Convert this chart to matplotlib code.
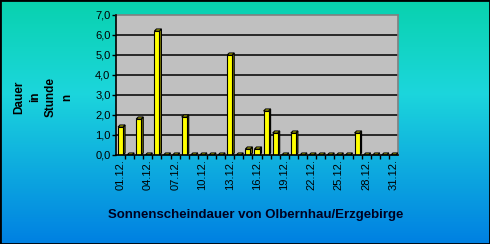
import numpy as np
import matplotlib
matplotlib.use("Agg")
import matplotlib.pyplot as plt
from matplotlib.colors import LinearSegmentedColormap
from matplotlib.patches import Polygon, Rectangle

# ----------------------------
# Data
# ----------------------------
days = list(range(1, 32))
day_labels = [f"{d:02d}.12." for d in days]
hours = [1.4, 0.0, 1.8, 0.0, 6.2, 0.0, 0.0, 1.9, 0.0, 0.0,
         0.0, 0.0, 5.0, 0.0, 0.3, 0.3, 2.2, 1.1, 0.0, 1.1,
         0.0, 0.0, 0.0, 0.0, 0.0, 0.0, 1.1, 0.0, 0.0, 0.0, 0.0]
yticks = [0, 1, 2, 3, 4, 5, 6, 7]

# ----------------------------
# Style
# ----------------------------
W, H = 490, 244
FRONT = "#FFFF00"
SIDE = "#808000"
TOP = "#E6E600"
WALL = "#C0C0C0"
FONT = ["Liberation Sans", "DejaVu Sans"]

fig = plt.figure(figsize=(W / 100, H / 100), dpi=100)

# background gradient
bg = fig.add_axes([0, 0, 1, 1], zorder=0)
cmap = LinearSegmentedColormap.from_list(
    "bg", [(0.0, "#08D2AE"), (0.38, "#1CD6DC"), (1.0, "#0080E2")])
grad = np.linspace(0, 1, 256).reshape(-1, 1)
bg.imshow(grad, aspect="auto", cmap=cmap, extent=[0, 1, 0, 1], origin="upper")
bg.set_xlim(0, 1)
bg.set_ylim(0, 1)
bg.axis("off")
bg.add_patch(Rectangle((0, 0), 1, 1, transform=bg.transAxes, fill=False,
                       edgecolor="black", lw=2))

# plot area
left, right, top, bottom = 116, 398, 15, 155
ax = fig.add_axes([left / W, 1 - bottom / H, (right - left) / W, (bottom - top) / H],
                  zorder=1)
ax.set_facecolor(WALL)
ax.set_xlim(0.5, 31.5)
ax.set_ylim(0, 7)

for y in yticks[1:-1]:
    ax.axhline(y, color="black", lw=1.1, zorder=1)

# 3D-ish bars
bw = 0.55
dx, dy = 0.22, 0.1
ax.bar(days, hours, width=bw, color=FRONT, edgecolor="black", lw=0.8, zorder=3)
for d, h in zip(days, hours):
    x0, x1 = d - bw / 2, d + bw / 2
    side = Polygon([(x1, 0), (x1 + dx, dy), (x1 + dx, h + dy), (x1, h)],
                   closed=True, facecolor=SIDE, edgecolor="black", lw=0.8, zorder=2)
    topf = Polygon([(x0, h), (x0 + dx, h + dy), (x1 + dx, h + dy), (x1, h)],
                   closed=True, facecolor=TOP, edgecolor="black", lw=0.8, zorder=4)
    ax.add_patch(side)
    ax.add_patch(topf)

# axes
for s in ("top", "right"):
    ax.spines[s].set_color("#808080")
    ax.spines[s].set_linewidth(1.2)
for s in ("left", "bottom"):
    ax.spines[s].set_color("black")
    ax.spines[s].set_linewidth(1.2)
    ax.spines[s].set_zorder(5)

ax.set_yticks(yticks)
ax.set_yticklabels([f"{v:.1f}".replace(".", ",") for v in yticks],
                   fontsize=8, family=FONT)
ax.tick_params(axis="y", length=3, width=1, pad=1, color="black")

ax.set_xticks(days[::3])
ax.set_xticklabels(day_labels[::3], rotation=90, fontsize=8, family=FONT)
ax.set_xticks([d + 0.5 for d in days[:-1]], minor=True)
ax.tick_params(axis="x", which="major", length=0, pad=3)
ax.tick_params(axis="x", which="minor", length=3, width=1, color="black")

fig.text(43 / W, 1 - 97 / H, "Dauer\nin\nStunde\nn", rotation=90,
         ha="center", va="center", ma="center", fontsize=8.5,
         fontweight="bold", family=FONT, linespacing=1.45)
fig.text(256 / W, 1 - 215 / H, "Sonnenscheindauer von Olbernhau/Erzgebirge",
         ha="center", va="center", fontsize=9.5, fontweight="bold", family=FONT,
         color="#000020")

fig.savefig("out.png", dpi=100)
